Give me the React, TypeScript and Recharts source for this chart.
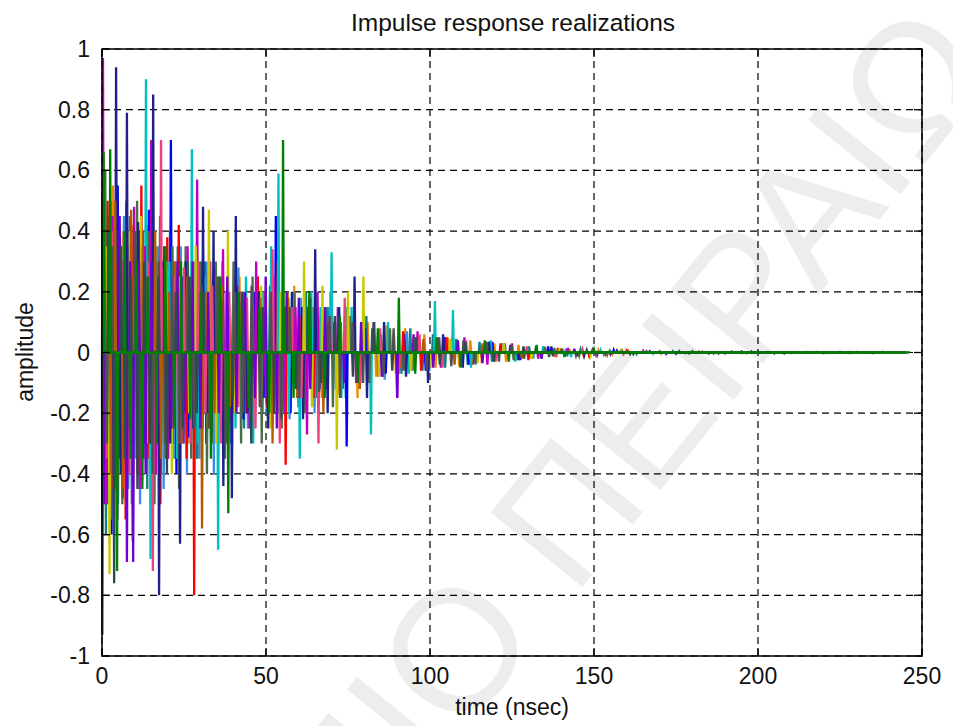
import { LineChart, Line, XAxis, YAxis, CartesianGrid } from 'recharts';

// axis ticks
const xTicks = [0, 50, 100, 150, 200, 250];
const yTicks = [-1, -0.8, -0.6, -0.4, -0.2, 0, 0.2, 0.4, 0.6, 0.8, 1];

// each realization: [arrival time (nsec), tap amplitude]
const blueTaps = [
  [1.1, 0.42], [2.9, -0.6], [4.8, 0.55], [6.3, -0.48], [7.9, 0.35], [9.4, -0.62], [11.2, 0.4], [12.8, -0.3],
  [14.3, 0.47], [16.1, -0.35], [18.6, 0.3], [21.0, 0.7], [22.7, -0.4], [24.5, 0.25], [26.4, -0.28], [29.5, 0.22],
  [31.8, -0.3], [34.5, 0.28], [37.2, -0.2], [40.0, 0.18], [43.1, -0.22], [46.4, 0.2], [49.3, -0.15], [53.0, 0.45],
  [57.5, -0.2], [61.0, 0.15], [66.3, -0.12], [70.8, 0.1], [74.6, -0.31], [80.2, 0.08], [86.5, -0.07], [92.1, 0.06],
  [98.7, -0.06], [104.5, 0.05], [111.8, -0.04], [119.0, 0.035], [127.5, -0.025], [136.0, 0.02], [145.2, -0.012],
  [156.0, 0.008], [172.0, -0.004], [195.0, 0.003], [220.0, -0.002], [245.0, 0.001],
];
const redTaps = [
  [1.7, 0.5], [3.4, -0.45], [5.5, 0.38], [7.2, -0.55], [9.0, 0.42], [10.9, -0.4], [12.0, 0.55], [13.9, -0.35],
  [15.3, 0.3], [17.8, -0.5], [19.9, 0.38], [21.6, -0.3], [23.4, 0.42], [25.8, -0.35], [28.1, -0.8], [30.4, 0.3],
  [32.7, -0.25], [35.1, 0.2], [38.0, -0.3], [41.2, 0.22], [44.0, -0.2], [47.5, 0.25], [50.4, -0.18], [53.6, 0.3],
  [56.0, -0.37], [60.2, 0.12], [64.5, -0.15], [69.0, 0.1], [73.4, -0.12], [79.3, 0.09], [85.6, -0.08], [91.8, 0.07],
  [97.3, -0.06], [105.0, 0.05], [113.2, -0.04], [121.5, 0.03], [130.0, -0.025], [139.0, 0.015], [148.5, -0.01],
  [160.0, 0.006], [185.0, -0.003], [215.0, 0.002], [244.0, -0.001],
];
const cyanTaps = [
  [0.9, 0.3], [2.0, -0.5], [3.9, 0.35], [5.9, -0.4], [8.1, 0.28], [10.1, -0.35], [13.4, 0.9], [14.8, -0.68],
  [16.9, 0.25], [18.9, -0.3], [20.5, 0.3], [22.9, -0.35], [25.3, 0.3], [27.4, 0.67], [29.2, -0.3], [31.3, 0.25],
  [33.9, -0.22], [35.4, -0.65], [37.9, 0.2], [40.7, -0.25], [43.9, 0.25], [46.1, -0.3], [49.0, 0.2], [51.6, 0.35],
  [53.8, 0.59], [57.0, -0.2], [60.3, -0.35], [63.8, 0.2], [66.6, 0.15], [70.0, 0.33], [73.0, -0.15], [76.1, 0.15],
  [82.0, -0.27], [87.2, 0.1], [93.5, -0.07], [101.5, 0.17], [107.0, 0.14], [112.5, -0.05], [118.5, 0.04],
  [126.0, -0.03], [134.5, 0.02], [143.0, -0.015], [152.0, 0.008], [168.0, -0.004], [200.0, 0.003], [240.0, -0.001],
];
const magentaTaps = [
  [0.3, 0.97], [1.6, -0.5], [3.2, 0.45], [5.2, -0.35], [6.6, 0.3], [9.8, 0.48], [11.5, -0.45], [13.1, 0.35],
  [15.0, 0.7], [16.4, -0.4], [18.3, 0.28], [20.2, -0.35], [22.1, 0.3], [24.8, -0.3], [26.1, 0.35], [29.0, 0.57],
  [30.7, -0.25], [33.0, 0.3], [36.9, 0.34], [39.4, -0.22], [42.6, 0.2], [45.0, -0.25], [47.0, 0.3], [50.0, -0.15],
  [52.3, 0.25], [55.6, -0.2], [59.0, 0.15], [62.5, -0.27], [65.7, 0.2], [68.4, -0.12], [71.9, 0.15], [77.5, -0.1],
  [83.0, 0.1], [90.0, -0.15], [96.2, 0.07], [103.3, -0.05], [110.5, 0.05], [117.5, -0.04], [125.0, 0.03],
  [133.0, -0.02], [142.0, 0.015], [151.0, -0.008], [165.0, 0.005], [190.0, -0.003], [225.0, 0.002],
];
const oliveTaps = [
  [1.3, 0.35], [2.3, -0.73], [4.2, 0.3], [6.0, -0.3], [8.4, 0.4], [10.3, -0.25], [11.9, 0.45], [13.6, -0.3],
  [15.8, 0.35], [17.5, -0.25], [19.6, 0.3], [21.3, -0.4], [23.7, 0.25], [26.6, -0.2], [28.6, 0.35], [32.6, 0.47],
  [34.8, -0.3], [38.4, 0.4], [40.3, -0.2], [43.4, 0.18], [45.8, -0.15], [48.5, 0.22], [51.3, -0.25], [54.5, 0.2],
  [58.0, 0.18], [61.6, 0.3], [64.0, -0.18], [67.2, 0.22], [71.6, -0.32], [75.0, 0.2], [79.7, 0.25], [84.5, -0.08],
  [89.0, 0.07], [94.2, -0.06], [100.5, -0.05], [106.2, 0.045], [114.5, -0.035], [122.5, 0.03], [131.0, -0.02],
  [139.5, 0.015], [149.0, -0.01], [158.0, 0.006], [178.0, -0.003], [210.0, 0.002],
];
const navyTaps = [
  [2.0, 0.3], [4.3, 0.94], [5.7, -0.4], [7.6, 0.79], [9.2, -0.3], [11.0, 0.43], [12.6, -0.35], [15.6, 0.85],
  [17.4, -0.8], [19.0, 0.35], [20.8, -0.3], [23.8, -0.63], [25.6, 0.3], [27.8, -0.25], [30.8, 0.48], [32.2, -0.2],
  [34.0, 0.4], [37.0, -0.44], [39.6, -0.48], [40.8, 0.45], [44.4, -0.2], [47.8, 0.2], [50.6, -0.25], [57.9, 0.2],
  [61.3, -0.22], [65.0, 0.34], [68.8, -0.2], [72.3, 0.15], [77.0, 0.25], [80.8, -0.15], [86.0, 0.1], [92.7, -0.08],
  [99.4, -0.1], [104.0, 0.06], [110.0, -0.05], [118.0, 0.035], [127.0, -0.025], [137.0, 0.02], [147.0, -0.01],
  [157.0, 0.006], [175.0, -0.004], [200.0, 0.003], [235.0, -0.002],
];
const brownTaps = [
  [0.7, 0.55], [2.7, -0.4], [4.0, 0.5], [6.4, -0.45], [8.9, 0.47], [10.6, -0.3], [12.4, 0.35], [14.5, -0.25],
  [16.2, 0.4], [18.0, -0.35], [20.4, 0.2], [22.3, 0.3], [24.2, -0.3], [26.0, 0.25], [30.5, -0.58], [31.6, 0.2],
  [34.3, -0.2], [36.5, 0.22], [39.0, -0.18], [42.2, 0.15], [45.2, -0.2], [48.3, 0.18], [52.0, -0.3], [56.6, 0.2],
  [59.5, -0.15], [63.0, 0.12], [67.5, -0.2], [72.8, 0.1], [78.6, -0.12], [85.0, 0.06], [91.0, -0.05], [98.0, 0.045],
  [107.5, -0.04], [116.0, 0.03], [128.0, -0.02], [140.0, 0.012], [154.0, -0.008], [170.0, 0.004], [205.0, -0.002],
];
const pinkTaps = [
  [1.4, -0.35], [3.0, 0.4], [4.4, -0.3], [6.1, 0.3], [8.3, -0.4], [10.0, 0.25], [12.1, -0.3], [14.1, 0.3],
  [15.5, -0.72], [18.0, 0.7], [19.5, -0.25], [21.8, 0.25], [23.2, -0.3], [25.0, 0.28], [27.0, -0.3], [29.3, 0.3],
  [31.5, -0.2], [33.6, 0.22], [36.2, -0.3], [38.8, 0.2], [41.5, -0.18], [44.2, 0.18], [46.8, -0.25], [49.6, 0.2],
  [52.0, 0.34], [54.2, -0.3], [57.8, 0.15], [60.8, -0.15], [66.0, -0.3], [69.8, 0.12], [74.0, 0.18], [78.8, -0.1],
  [84.8, 0.08], [90.5, -0.07], [96.8, 0.06], [103.8, -0.05], [111.0, 0.04], [120.0, -0.03], [129.5, 0.02],
  [138.5, -0.015], [146.5, 0.01], [159.0, -0.005], [182.0, 0.003], [212.0, -0.002],
];
const purpleTaps = [
  [0.6, -0.5], [2.4, 0.35], [3.6, -0.4], [5.4, 0.45], [7.6, -0.69], [8.6, 0.3], [9.5, -0.69], [11.3, 0.3],
  [13.3, -0.4], [15.0, 0.3], [16.8, -0.3], [19.1, 0.25], [21.2, -0.25], [23.0, 0.3], [25.3, -0.2], [27.6, 0.3],
  [30.0, -0.25], [32.4, 0.2], [35.6, -0.2], [38.2, 0.25], [41.0, -0.2], [43.6, 0.2], [46.6, -0.15], [49.9, 0.25],
  [53.3, -0.25], [56.3, 0.2], [60.0, 0.18], [63.5, -0.12], [68.0, 0.15], [73.8, -0.1], [79.0, 0.1], [85.3, -0.08],
  [90.0, -0.15], [95.0, 0.06], [101.0, -0.05], [108.5, 0.04], [116.0, -0.035], [124.5, 0.025], [134.0, -0.02],
  [144.0, 0.012], [155.0, -0.006], [167.0, 0.004], [195.0, -0.002],
];
const skyTaps = [
  [0.8, -0.4], [2.6, 0.5], [4.9, -0.5], [6.7, 0.45], [8.0, -0.45], [9.9, 0.38], [11.6, -0.5], [13.7, 0.42],
  [15.2, -0.45], [17.0, 0.35], [18.8, -0.45], [20.7, 0.4], [22.2, -0.35], [24.0, 0.35], [25.9, -0.4], [27.9, 0.3],
  [29.7, -0.35], [31.9, 0.3], [34.1, -0.4], [36.7, 0.3], [39.2, -0.3], [41.6, 0.28], [44.5, -0.25], [47.3, 0.22],
  [50.2, -0.2], [53.9, 0.25], [57.2, -0.22], [60.6, 0.18], [64.8, -0.2], [69.3, 0.15], [74.3, -0.15], [79.9, 0.12],
  [86.2, -0.09], [93.0, 0.07], [99.8, -0.06], [106.8, 0.05], [114.0, -0.04], [122.0, 0.03], [131.5, -0.02],
  [141.5, 0.012], [153.0, -0.007], [170.0, 0.003], [200.0, -0.002],
];
const mossTaps = [
  [1.0, 0.6], [2.8, -0.55], [4.5, 0.4], [6.2, -0.5], [7.4, 0.5], [9.1, -0.5], [10.7, 0.5], [12.2, -0.42],
  [14.4, 0.4], [16.0, -0.5], [17.7, 0.45], [19.4, -0.35], [21.5, 0.35], [23.5, -0.45], [25.5, 0.35], [27.2, -0.35],
  [29.9, 0.3], [32.0, -0.4], [34.7, 0.3], [37.5, -0.35], [40.1, 0.3], [42.4, -0.3], [45.9, 0.25], [48.7, -0.3],
  [51.8, 0.2], [54.8, -0.25], [58.7, 0.2], [62.0, -0.2], [65.3, 0.15], [70.4, -0.18], [75.6, 0.12], [81.5, -0.1],
  [87.8, 0.08], [94.6, -0.06], [102.5, 0.05], [109.8, -0.045], [117.0, 0.035], [125.5, -0.025], [135.0, 0.018],
  [145.5, -0.01], [158.5, 0.006], [185.0, -0.003], [225.0, 0.002],
];
const orangeTaps = [
  [0.4, 0.3], [1.8, -0.45], [3.3, 0.55], [5.0, -0.35], [6.5, 0.4], [8.2, -0.3], [9.7, 0.35], [11.4, -0.4],
  [13.0, 0.3], [14.9, -0.3], [16.5, 0.35], [18.4, -0.25], [20.1, 0.3], [21.9, -0.35], [24.3, 0.22], [26.3, -0.3],
  [28.3, 0.3], [30.2, -0.25], [32.5, 0.25], [34.4, -0.28], [36.8, 0.2], [39.5, -0.22], [41.9, 0.25], [44.8, -0.2],
  [47.7, 0.18], [50.8, -0.22], [53.1, 0.2], [55.9, -0.18], [58.6, 0.22], [61.8, -0.2], [64.3, 0.15], [67.0, -0.15],
  [69.6, 0.2], [72.1, -0.14], [75.3, 0.12], [77.9, -0.15], [81.0, 0.1], [83.6, -0.08], [86.8, 0.09], [89.6, -0.07],
  [92.4, 0.08], [95.2, -0.06], [98.3, 0.06], [101.7, -0.05], [105.4, 0.05], [108.9, -0.045], [112.3, 0.04],
  [115.8, -0.035], [119.6, 0.03], [123.2, -0.03], [127.0, 0.025], [130.8, -0.02], [134.6, 0.02], [138.2, -0.015],
  [142.5, 0.012], [146.8, -0.01], [151.3, 0.008], [155.6, -0.006], [160.5, 0.005], [170.5, -0.004], [183.0, 0.003],
  [196.5, -0.003], [214.0, 0.002], [232.0, -0.002],
];
const tealTaps = [
  [1.2, -0.6], [2.2, 0.45], [4.1, -0.45], [5.6, 0.35], [7.3, -0.4], [8.5, 0.45], [10.4, -0.3], [12.5, 0.4],
  [13.8, -0.45], [16.3, 0.3], [17.9, -0.4], [19.7, 0.3], [21.1, -0.3], [23.1, 0.35], [24.9, -0.3], [27.1, 0.25],
  [29.0, -0.35], [31.4, 0.3], [33.3, -0.3], [35.8, 0.25], [38.6, -0.25], [40.9, 0.2], [43.3, -0.25], [46.0, 0.2],
  [48.9, -0.2], [51.2, 0.22], [54.0, -0.2], [56.8, 0.18], [59.9, -0.18], [62.2, 0.2], [65.6, -0.15], [68.7, 0.15],
  [71.3, -0.12], [74.8, 0.15], [78.3, -0.1], [80.6, 0.12], [84.3, -0.08], [87.5, 0.07], [91.3, -0.07], [94.0, 0.08],
  [97.7, -0.06], [100.9, 0.06], [104.6, -0.05], [108.0, 0.045], [111.5, -0.04], [115.1, 0.035], [118.9, -0.03],
  [122.8, 0.03], [126.4, -0.025], [130.2, 0.02], [134.0, -0.02], [137.9, 0.015], [141.8, -0.012], [145.9, 0.01],
  [150.6, -0.008], [154.8, 0.006], [163.0, -0.005], [174.0, 0.004], [186.5, -0.003], [203.0, 0.002], [221.0, -0.002],
  [242.0, 0.001],
];
const grayTaps = [
  [0.2, 0.5], [1.5, -0.3], [3.1, 0.35], [4.7, -0.55], [6.8, 0.3], [8.4, -0.25], [10.2, 0.4], [11.8, -0.35],
  [13.5, 0.25], [15.4, -0.4], [17.3, 0.3], [19.2, -0.3], [21.4, 0.25], [23.6, -0.3], [26.2, 0.3], [28.0, -0.25],
  [30.3, 0.22], [32.8, -0.25], [35.3, 0.25], [37.7, -0.3], [40.5, 0.2], [43.0, -0.2], [45.6, 0.22], [48.1, -0.18],
  [51.5, 0.2], [54.6, -0.22], [57.3, 0.15], [60.1, -0.15], [63.5, 0.18], [66.2, -0.13], [69.4, 0.12], [72.6, -0.15],
  [76.4, 0.1], [79.6, -0.1], [82.4, 0.08], [85.9, -0.07], [88.9, 0.08], [92.0, -0.06], [95.4, 0.05], [99.0, -0.06],
  [102.8, 0.05], [106.5, -0.045], [110.2, 0.04], [113.8, -0.035], [117.3, 0.035], [121.0, -0.03], [124.9, 0.025],
  [128.7, -0.02], [132.3, 0.02], [136.3, -0.015], [140.3, 0.012], [144.5, -0.01], [149.5, 0.008], [153.5, -0.006],
  [166.0, 0.004], [179.0, -0.003], [192.0, 0.003], [210.0, -0.002], [228.0, 0.002], [243.0, -0.001],
];
const darkTaps = [
  [0.1, -0.93], [1.9, 0.4], [3.7, -0.76], [5.8, 0.35], [7.0, -0.35], [8.8, 0.25], [10.8, -0.45], [12.9, 0.3],
  [14.6, -0.3], [17.2, 0.25], [19.8, -0.4], [22.5, 0.2], [24.6, -0.25], [26.7, 0.25], [28.9, -0.2], [31.0, 0.2],
  [33.4, -0.3], [36.3, 0.18], [39.9, -0.15], [42.9, 0.2], [45.5, -0.3], [49.0, 0.15], [52.5, -0.2], [55.8, 0.15],
  [59.2, -0.12], [62.8, 0.15], [66.8, -0.1], [71.0, 0.12], [76.5, -0.08], [82.8, 0.1], [88.5, -0.06], [95.8, 0.05],
  [103.0, -0.04], [110.8, 0.035], [119.5, -0.03], [128.5, 0.02], [137.5, -0.012], [147.8, 0.008], [161.0, -0.005],
  [176.0, 0.004], [188.0, -0.003], [198.0, 0.003], [208.0, -0.003], [218.0, 0.002], [228.0, -0.002], [238.0, 0.002],
];
const greenTaps = [
  [0.5, 0.66], [2.5, 0.67], [4.6, -0.72], [6.9, 0.4], [8.7, -0.35], [10.5, 0.3], [12.3, -0.45], [14.0, 0.25],
  [16.6, -0.3], [19.3, 0.35], [22.0, -0.25], [24.1, 0.3], [26.9, -0.22], [30.1, 0.2], [33.2, -0.35], [36.0, 0.25],
  [38.5, -0.53], [41.8, 0.2], [44.7, -0.18], [48.0, 0.15], [51.0, -0.2], [55.2, 0.7], [58.4, -0.15], [63.2, 0.2],
  [67.9, -0.15], [72.5, 0.12], [78.0, -0.1], [84.1, 0.08], [90.5, 0.18], [95.5, -0.07], [102.0, 0.05], [109.3, -0.05],
  [116.7, 0.04], [124.0, -0.03], [132.5, 0.025], [141.0, -0.015], [150.0, 0.01], [162.0, -0.005], [180.0, 0.004],
  [205.0, -0.003], [230.0, 0.002], [246.0, 0.001],
];

const realizations = [
  { taps: orangeTaps, color: '#f08c00' },
  { taps: skyTaps, color: '#3a8ee6' },
  { taps: tealTaps, color: '#108080' },
  { taps: blueTaps, color: '#0000ff' },
  { taps: redTaps, color: '#ff0000' },
  { taps: cyanTaps, color: '#00bfbf' },
  { taps: mossTaps, color: '#4a6e4a' },
  { taps: magentaTaps, color: '#bf00bf' },
  { taps: oliveTaps, color: '#c8c800' },
  { taps: navyTaps, color: '#20208c' },
  { taps: brownTaps, color: '#b45a00' },
  { taps: pinkTaps, color: '#ec4080' },
  { taps: purpleTaps, color: '#7000d0' },
  { taps: grayTaps, color: '#505050' },
  { taps: darkTaps, color: '#304850' },
  { taps: greenTaps, color: '#008000' },
];

// each tap is one sample wide, so it shows up as a thin spike
const HALF_SAMPLE = 0.25;
function spikes(taps: number[][]) {
  const pts = [{ t: 0, v: 0 }];
  for (const [t, a] of taps) {
    pts.push({ t: Math.max(0, t - HALF_SAMPLE), v: 0 }, { t, v: a }, { t: t + HALF_SAMPLE, v: 0 });
  }
  return pts;
}

const PLOT = { left: 102, right: 922, top: 49, bottom: 656 };
const TICK_LEN = 8;
const FONT = '"Liberation Sans", Arial, Helvetica, sans-serif';

function XTick(props: any) {
  const { x, y, payload } = props;
  return (
    <g>
      <line x1={x} x2={x} y1={y} y2={y - TICK_LEN} stroke="#000" strokeWidth={1.3} />
      <line x1={x} x2={x} y1={PLOT.top} y2={PLOT.top + TICK_LEN} stroke="#000" strokeWidth={1.3} />
      <text x={x} y={y + 28} textAnchor="middle" fontSize={23} fill="#111" fontFamily={FONT}>
        {payload.value}
      </text>
    </g>
  );
}

function YTick(props: any) {
  const { x, y, payload } = props;
  return (
    <g>
      <line x1={x} x2={x + TICK_LEN} y1={y} y2={y} stroke="#000" strokeWidth={1.3} />
      <line x1={PLOT.right - TICK_LEN} x2={PLOT.right} y1={y} y2={y} stroke="#000" strokeWidth={1.3} />
      <text x={x - 12} y={y + 8} textAnchor="end" fontSize={23} fill="#111" fontFamily={FONT}>
        {payload.value}
      </text>
    </g>
  );
}

export default function App() {
  return (
    <div style={{ position: 'relative', width: 953, height: 726, overflow: 'hidden', background: '#fff', fontFamily: FONT }}>
      <style>{'body{margin:0}'}</style>
      <LineChart width={953} height={726} margin={{ top: 49, right: 31, left: 0, bottom: 40 }}>
        <CartesianGrid stroke="#000" strokeDasharray="7 5" strokeWidth={1.2} />
        <XAxis
          dataKey="t"
          type="number"
          domain={[0, 250]}
          ticks={xTicks}
          interval={0}
          height={30}
          tickSize={0}
          tickMargin={0}
          tickLine={false}
          axisLine={false}
          tick={XTick}
          allowDuplicatedCategory={false}
        />
        <YAxis
          type="number"
          domain={[-1, 1]}
          ticks={yTicks}
          interval={0}
          width={102}
          tickSize={0}
          tickMargin={0}
          tickLine={false}
          axisLine={false}
          tick={YTick}
        />
        {realizations.map((r, i) => (
          <Line
            key={i}
            data={spikes(r.taps)}
            dataKey="v"
            type="linear"
            stroke={r.color}
            strokeWidth={2.3}
            dot={false}
            activeDot={false}
            isAnimationActive={false}
          />
        ))}
      </LineChart>
      <svg width={953} height={726} style={{ position: 'absolute', left: 0, top: 0, pointerEvents: 'none' }}>
        <rect
          x={PLOT.left}
          y={PLOT.top}
          width={PLOT.right - PLOT.left}
          height={PLOT.bottom - PLOT.top}
          fill="none"
          stroke="#000"
          strokeWidth={1.5}
        />
        <text x={513} y={31} textAnchor="middle" fontSize={24.5} fill="#111" fontFamily={FONT}>
          Impulse response realizations
        </text>
        <text x={512} y={715} textAnchor="middle" fontSize={23} fill="#111" fontFamily={FONT}>
          time (nsec)
        </text>
        <text
          transform="translate(33,352) rotate(-90)"
          textAnchor="middle"
          fontSize={23}
          fill="#111"
          fontFamily={FONT}
        >
          amplitude
        </text>
        <text
          transform="translate(430,775) rotate(-51)"
          x={1014}
          textAnchor="end"
          fontSize={172}
          fill="#000"
          fillOpacity={0.07}
          fontFamily={FONT}
        >
          ΠΑΝΕΠΙΣΤΗΜΙΟ ΠΕΙΡΑΙΩΣ
        </text>
      </svg>
    </div>
  );
}
